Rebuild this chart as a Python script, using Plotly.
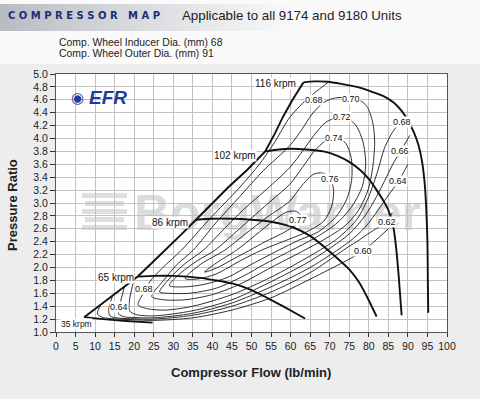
import plotly.graph_objects as go

# ---------------- data (flow lb/min, pressure ratio) ----------------
spd35_flow = [7.2, 12, 18, 24.7]
spd35_pr = [1.23, 1.20, 1.17, 1.145]
spd65_flow = [20.9, 25, 30, 36.8, 41, 45.3, 50, 54, 58, 63.7]
spd65_pr = [1.86, 1.87, 1.87, 1.84, 1.80, 1.75, 1.65, 1.53, 1.40, 1.21]
spd86_flow = [35.8, 40, 45, 50, 55, 60.7, 65, 69, 72, 75, 77.5, 79.5, 82]
spd86_pr = [2.74, 2.755, 2.755, 2.74, 2.71, 2.62, 2.49, 2.30, 2.14, 1.97, 1.77, 1.55, 1.24]
spd102_flow = [53.5, 57, 60, 64, 68.4, 72, 75.2, 78, 80.3, 82, 83.7, 85, 86.3, 87, 87.6, 88.4]
spd102_pr = [3.80, 3.83, 3.84, 3.83, 3.80, 3.73, 3.63, 3.50, 3.35, 3.20, 3.04, 2.89, 2.62, 2.30, 1.90, 1.26]
spd116_flow = [63.3, 66, 69.6, 73.5, 77, 81, 84, 86.5, 88.5, 90, 91.5, 92.7, 93.6, 94.3, 94.7, 95, 95.1, 95.2]
spd116_pr = [4.87, 4.885, 4.88, 4.84, 4.80, 4.72, 4.65, 4.55, 4.42, 4.28, 4.10, 3.90, 3.65, 3.30, 2.90, 2.40, 1.80, 1.30]
surge_flow = [7.2, 11.5, 14.5, 17.5, 20.9, 24.5, 28.5, 32, 35.8, 40, 44, 49, 53.5, 56, 58, 60.5, 63.3]
surge_pr = [1.23, 1.43, 1.57, 1.70, 1.86, 2.07, 2.30, 2.51, 2.74, 3.0, 3.24, 3.52, 3.80, 4.08, 4.33, 4.60, 4.87]

speed_names = ["35 krpm", "65 krpm", "86 krpm", "102 krpm", "116 krpm"]

eff60_flow = [11.5, 10.6, 12, 15, 20, 25, 35, 45, 55, 65, 75, 78.6, 85]
eff60_pr = [1.43, 1.28, 1.225, 1.205, 1.19, 1.18, 1.22, 1.34, 1.53, 1.82, 2.13, 2.26, 2.60]
eff62_flow = [14.5, 13.5, 13.8, 16, 20, 25, 35, 45, 55, 65, 75, 76.9, 80.5, 84.6, 86]
eff62_pr = [1.57, 1.35, 1.25, 1.215, 1.205, 1.20, 1.26, 1.40, 1.62, 1.92, 2.33, 2.40, 2.55, 2.71, 2.85]
eff64_flow = [17.5, 16.2, 16.0, 17.5, 20, 25, 35, 45, 55, 65, 75, 79, 82.5, 85, 87.5, 90]
eff64_pr = [1.70, 1.39, 1.28, 1.235, 1.225, 1.22, 1.29, 1.45, 1.70, 2.0, 2.40, 2.62, 2.90, 3.12, 3.33, 3.60]
eff66_flow = [20.0, 18.8, 18.8, 20.5, 25, 35, 45, 55, 65, 75, 79, 82, 84.5, 86.3, 88.1, 90.5]
eff66_pr = [1.82, 1.50, 1.33, 1.27, 1.25, 1.33, 1.50, 1.78, 2.10, 2.52, 2.80, 3.10, 3.40, 3.62, 3.80, 4.05]
eff68_flow = [69.6, 67, 64, 59.8, 56, 52, 47.1, 39.1, 32.1, 27, 24, 22.3, 21, 23.5, 28, 35, 45, 55, 65,
              72, 77, 80, 82.3, 84, 86.3, 88.4, 89.9]
eff68_pr = [4.87, 4.75, 4.60, 4.33, 3.95, 3.60, 3.25, 2.74, 2.27, 1.98, 1.78, 1.60, 1.42, 1.36, 1.34, 1.40,
            1.58, 1.85, 2.18, 2.45, 2.75, 3.10, 3.50, 3.85, 4.12, 4.26, 4.32]
eff70_flow = [24.5, 27.5, 31, 35.1, 41, 47, 53, 59.8, 63, 65.5, 68.5, 71.5, 75.4, 77.5, 79.5, 81, 81.5, 81,
              79.8, 77.5, 74, 69, 63, 55, 47, 40, 33, 27.5, 24.5]
eff70_pr = [1.55, 1.80, 2.05, 2.27, 2.70, 3.10, 3.50, 3.89, 4.15, 4.38, 4.56, 4.63, 4.63, 4.60, 4.50, 4.25,
            3.95, 3.55, 3.20, 2.90, 2.65, 2.45, 2.25, 2.00, 1.74, 1.58, 1.50, 1.50, 1.55]
eff72_flow = [26.5, 29.5, 33, 37.7, 43, 48, 54, 59.8, 63, 66, 69, 73.1, 76.5, 78.5, 79.2, 78.3, 75.5, 71.5,
              66, 60, 53, 48, 41, 34, 29, 26.5]
eff72_pr = [1.62, 1.86, 2.06, 2.27, 2.60, 2.90, 3.22, 3.55, 3.80, 4.05, 4.25, 4.34, 4.22, 3.95, 3.60, 3.25,
            2.93, 2.67, 2.45, 2.26, 2.04, 1.87, 1.68, 1.60, 1.60, 1.62]
eff74_flow = [29, 32, 36, 40.7, 46, 51, 55.5, 59.8, 63, 66, 69, 71, 73.9, 75.5, 75.6, 74.3, 71.5, 67, 62,
              57, 50, 44, 38, 33, 29]
eff74_pr = [1.72, 1.92, 2.10, 2.27, 2.55, 2.82, 3.06, 3.29, 3.55, 3.80, 3.97, 4.01, 3.94, 3.70, 3.35, 3.05,
            2.78, 2.55, 2.42, 2.27, 2.05, 1.85, 1.74, 1.70, 1.72]
eff76_flow = [33, 37, 43.2, 48, 54, 59.8, 63, 66, 68.5, 70.3, 71, 70.5, 68.5, 64, 58, 52.6, 47, 41, 36, 33]
eff76_pr = [1.83, 2.05, 2.27, 2.50, 2.78, 3.03, 3.28, 3.45, 3.46, 3.36, 3.18, 2.95, 2.72, 2.55, 2.40, 2.27,
            2.10, 1.90, 1.82, 1.83]
eff77_flow = [38, 41, 46.2, 51, 55.5, 59, 61.5, 62.8, 61.5, 58.5, 53.5, 49.6, 45, 41, 38]
eff77_pr = [1.93, 2.07, 2.27, 2.50, 2.72, 2.86, 2.87, 2.78, 2.67, 2.55, 2.40, 2.27, 2.12, 1.99, 1.93]

eff_label_text = ["0.64", "0.68", "0.77", "0.76", "0.74", "0.72", "0.70", "0.68", "0.68", "0.66",
                  "0.64", "0.62", "0.60"]
eff_label_flow = [16.0, 22.4, 61.8, 70.1, 71.1, 73.1, 75.4, 66.0, 88.6, 88.0, 87.5, 84.6, 78.6]
eff_label_pr = [1.38, 1.66, 2.74, 3.37, 4.01, 4.33, 4.62, 4.60, 4.25, 3.80, 3.34, 2.71, 2.26]

x_ticks = list(range(0, 101, 5))
y_ticks = [round(1.0 + 0.2 * i, 1) for i in range(21)]

# ---------------- layout geometry (pixels) ----------------
W, H = 480, 399
L, R, T, B = 56, 33, 74, 67
PW, PH = W - L - R, H - T - B


def px(x):
    return (x - L) / PW


def py(y):
    return (H - B - y) / PH


FONT = "Liberation Sans, Arial, sans-serif"

fig = go.Figure()

contours = [(eff60_flow, eff60_pr), (eff62_flow, eff62_pr), (eff64_flow, eff64_pr),
            (eff66_flow, eff66_pr), (eff68_flow, eff68_pr), (eff70_flow, eff70_pr),
            (eff72_flow, eff72_pr), (eff74_flow, eff74_pr), (eff76_flow, eff76_pr),
            (eff77_flow, eff77_pr)]
for fx, fy in contours:
    fig.add_trace(go.Scatter(x=fx, y=fy, mode="lines",
                             line=dict(color="#1a1a1a", width=0.9, shape="spline", smoothing=0.8),
                             hoverinfo="skip", showlegend=False))

speeds = [(spd35_flow, spd35_pr), (spd65_flow, spd65_pr), (spd86_flow, spd86_pr),
          (spd102_flow, spd102_pr), (spd116_flow, spd116_pr)]
for (fx, fy), nm in zip(speeds, speed_names):
    fig.add_trace(go.Scatter(x=fx, y=fy, mode="lines", name=nm,
                             line=dict(color="#111111", width=1.9, shape="spline", smoothing=0.6),
                             hoverinfo="skip", showlegend=False))
fig.add_trace(go.Scatter(x=surge_flow, y=surge_pr, mode="lines",
                         line=dict(color="#111111", width=1.9),
                         hoverinfo="skip", showlegend=False))

CM = dict(xanchor="center", yanchor="middle", showarrow=False)

annotations = []
for t, fx, fy in zip(eff_label_text, eff_label_flow, eff_label_pr):
    annotations.append(dict(x=fx, y=fy, xref="x", yref="y", text=t,
                            font=dict(family=FONT, size=9, color="#111"),
                            bgcolor="white", borderpad=0, **CM))

speed_label_pos = [(76.3, 324.3, 8.5), (116.3, 277.3, 10), (170, 222.7, 10), (235.3, 155, 10),
                   (275.3, 83.3, 10)]
for nm, (lx, ly, fs) in zip(speed_names, speed_label_pos):
    annotations.append(dict(x=px(lx), y=py(ly), xref="paper", yref="paper", text=nm,
                            font=dict(family=FONT, size=fs, color="#111"),
                            bgcolor="white", borderpad=0, **CM))

# header texts
annotations += [
    dict(x=px(6), y=py(15.5), xref="paper", yref="paper", xanchor="left", yanchor="middle",
         text="C O M P R E S S O R   M A P", showarrow=False,
         font=dict(family="DejaVu Sans", size=10, color="#1b2d7a", weight="bold")),
    dict(x=px(180), y=py(15.5), xref="paper", yref="paper", xanchor="left", yanchor="middle",
         text="Applicable to all 9174 and 9180 Units", showarrow=False,
         font=dict(family=FONT, size=13.3, color="#222")),
    dict(x=px(57), y=py(42), xref="paper", yref="paper", xanchor="left", yanchor="middle",
         text="Comp. Wheel Inducer Dia. (mm) 68", showarrow=False,
         font=dict(family=FONT, size=10.4, color="#222")),
    dict(x=px(57), y=py(53.5), xref="paper", yref="paper", xanchor="left", yanchor="middle",
         text="Comp. Wheel Outer Dia. (mm) 91", showarrow=False,
         font=dict(family=FONT, size=10.4, color="#222")),
    dict(x=px(251), y=py(372.7), xref="paper", yref="paper", text="<b>Compressor Flow (lb/min)</b>",
         font=dict(family=FONT, size=13, color="#222"), **CM),
    dict(x=px(12.5), y=py(205.5), xref="paper", yref="paper", text="<b>Pressure Ratio</b>",
         textangle=-90, font=dict(family=FONT, size=13, color="#222"), **CM),
    dict(x=px(108), y=py(97.5), xref="paper", yref="paper", text="<b><i>EFR</i></b>",
         font=dict(family=FONT, size=19, color="#1f3c99"), **CM),
    dict(x=px(77), y=py(97.5), xref="paper", yref="paper", text="◉",
         font=dict(family="DejaVu Sans", size=15, color="#1f3c99"), **CM),
]

shapes = []
# white header area + gradient band
shapes.append(dict(type="rect", xref="paper", yref="paper", x0=px(0), x1=px(W), y0=py(0), y1=py(64),
                   fillcolor="#fafafa", line=dict(width=0), layer="below"))
n = 40
for i in range(n):
    t = i / (n - 1)
    c0, c1 = (184, 189, 196), (250, 250, 250)
    col = tuple(int(a + (b - a) * t ** 0.9) for a, b in zip(c0, c1))
    shapes.append(dict(type="rect", xref="paper", yref="paper",
                       x0=px(300 * i / n), x1=px(300 * (i + 1) / n + 0.5), y0=py(31), y1=py(4),
                       fillcolor="rgb(%d,%d,%d)" % col, line=dict(width=0), layer="below"))
# watermark
shapes.append(dict(type="rect", xref="paper", yref="paper", x0=px(133), x1=px(422), y0=py(232),
                   y1=py(184), fillcolor="rgba(0,0,0,0)", line=dict(width=0), layer="between",
                   label=dict(text="BorgWarner", textposition="middle center",
                              font=dict(family=FONT, size=50, color="#dcdcdc", weight="bold"))))
for k in range(5):
    shapes.append(dict(type="rect", xref="paper", yref="paper", x0=px(82 + 3 * (k % 2)),
                       x1=px(127 - 3 * (k % 2)), y0=py(193 + 8 * k + 5), y1=py(193 + 8 * k),
                       fillcolor="#dedede", line=dict(width=0), layer="between"))

axis_common = dict(showgrid=True, gridcolor="#c2c2c2", gridwidth=1, showline=True, linecolor="#555",
                   linewidth=1, mirror=True, ticks="outside", tickcolor="#333", zeroline=False,
                   tickfont=dict(family=FONT, size=10.5, color="#222"))

fig.update_layout(
    width=W, height=H, margin=dict(l=L, r=R, t=T, b=B, pad=0),
    paper_bgcolor="#ededed", plot_bgcolor="white",
    xaxis=dict(range=[0, 100], tickvals=x_ticks, ticklen=4, **axis_common),
    yaxis=dict(range=[1, 5], tickvals=y_ticks, ticktext=["%.1f" % v for v in y_ticks], ticklen=5,
               **axis_common),
    annotations=annotations, shapes=shapes, showlegend=False,
)

fig.write_html("out.html", config={"displayModeBar": False},
               post_script="document.body.style.margin='0';document.body.style.overflow='hidden';")
